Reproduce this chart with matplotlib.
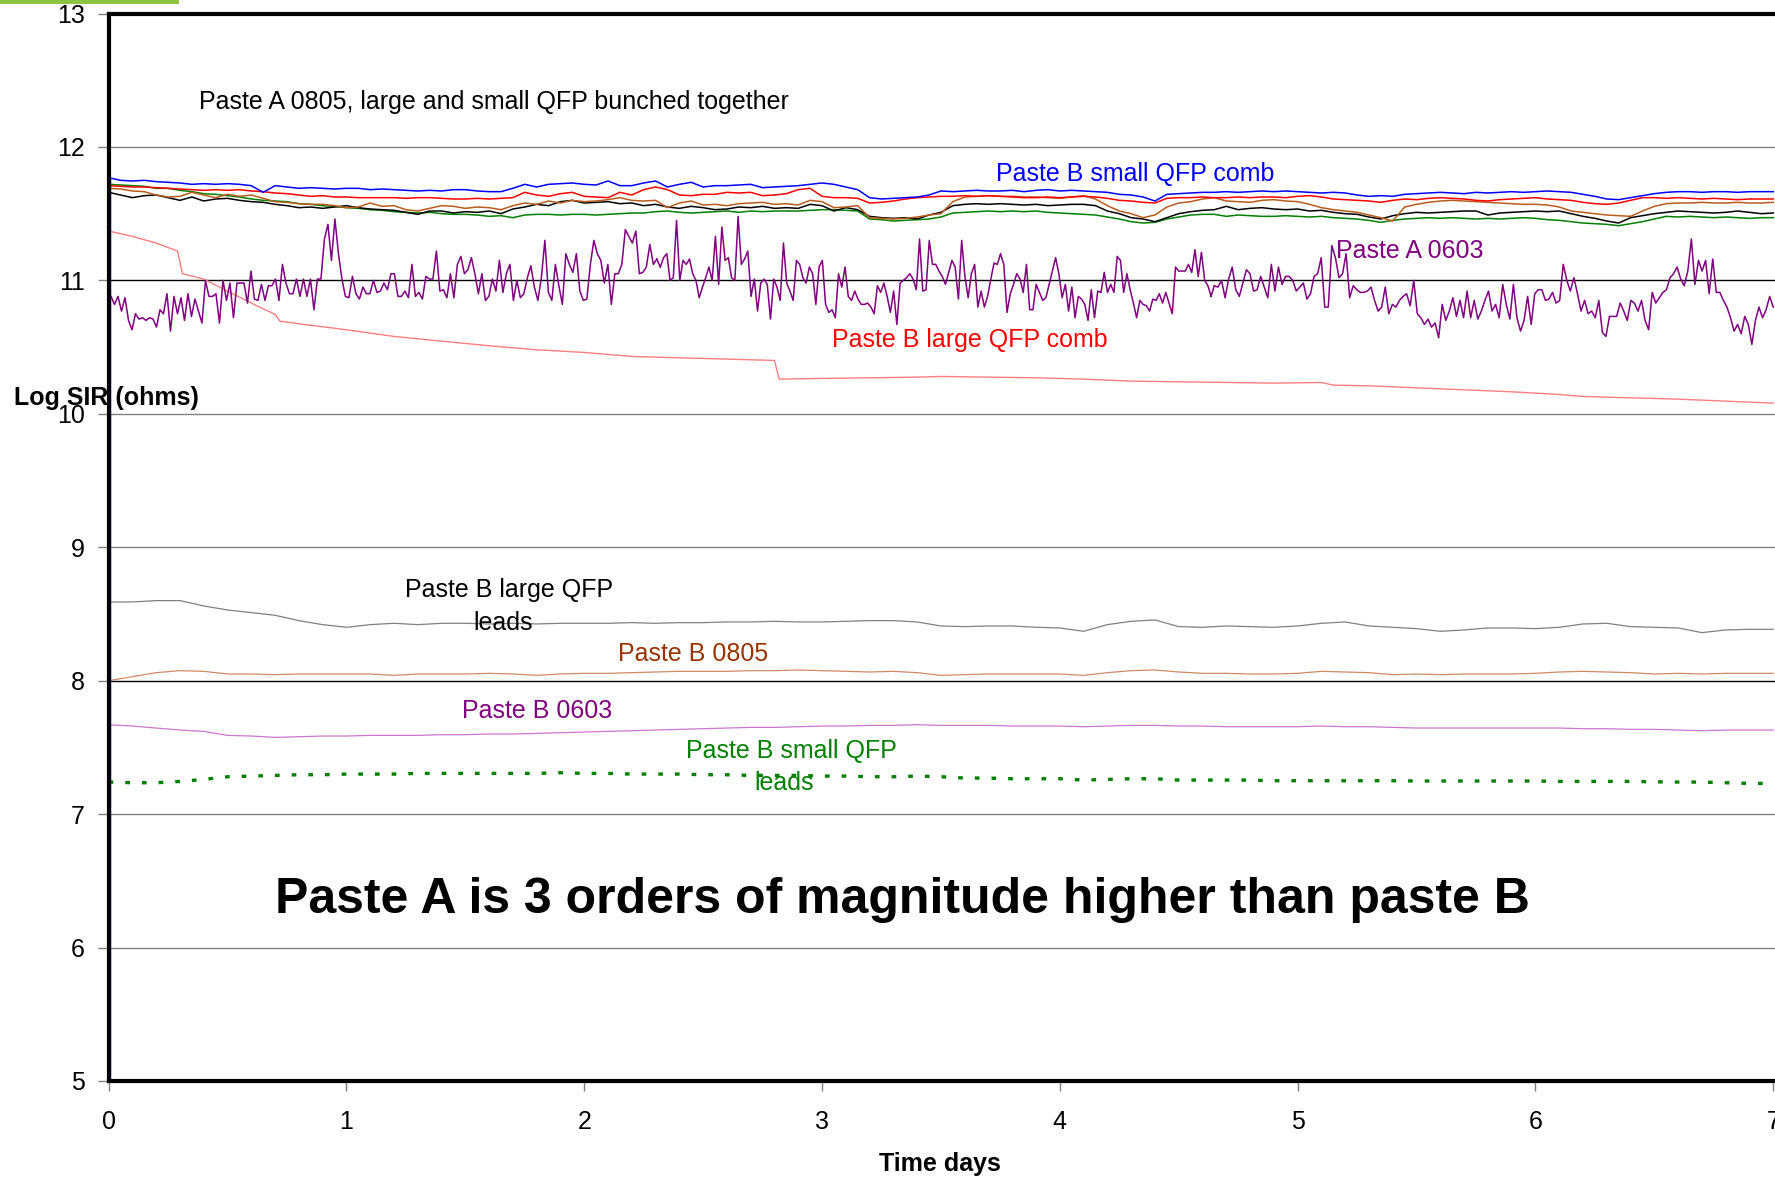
import numpy as np
import matplotlib.pyplot as plt
from matplotlib.patches import Rectangle

plt.rcParams["font.family"] = ["Liberation Sans", "DejaVu Sans"]

# ---- SIR readings, log10(ohms) ----
# upper group, read every 0.05 day from 0 to 7
blue_vals = [
    11.77, 11.75, 11.745, 11.75, 11.74, 11.735, 11.73, 11.72, 11.725, 11.72,
    11.725, 11.72, 11.71, 11.66, 11.71, 11.70, 11.69, 11.695, 11.69, 11.685,
    11.69, 11.69, 11.68, 11.685, 11.68, 11.675, 11.67, 11.675, 11.67, 11.68,
    11.68, 11.67, 11.665, 11.665, 11.69, 11.72, 11.70, 11.72, 11.725, 11.73,
    11.72, 11.715, 11.745, 11.71, 11.71, 11.73, 11.745, 11.70, 11.72, 11.735,
    11.70, 11.71, 11.71, 11.715, 11.72, 11.695, 11.70, 11.705, 11.71, 11.72,
    11.73, 11.72, 11.70, 11.68, 11.62, 11.61, 11.615, 11.62, 11.625, 11.64,
    11.67, 11.665, 11.67, 11.675, 11.67, 11.67, 11.675, 11.665, 11.675, 11.68,
    11.67, 11.675, 11.67, 11.665, 11.66, 11.645, 11.64, 11.625, 11.595, 11.645,
    11.65, 11.655, 11.66, 11.66, 11.665, 11.66, 11.665, 11.67, 11.665, 11.67,
    11.665, 11.66, 11.655, 11.66, 11.655, 11.64, 11.63, 11.635, 11.63, 11.645,
    11.65, 11.655, 11.66, 11.655, 11.65, 11.66, 11.655, 11.66, 11.665, 11.66,
    11.665, 11.67, 11.665, 11.66, 11.645, 11.63, 11.61, 11.605, 11.62, 11.635,
    11.65, 11.66, 11.665, 11.665, 11.66, 11.665, 11.665, 11.66, 11.665, 11.665,
    11.665,
]
red_vals = [
    11.71, 11.705, 11.70, 11.70, 11.695, 11.69, 11.685, 11.68, 11.675, 11.68,
    11.675, 11.68, 11.67, 11.665, 11.655, 11.65, 11.64, 11.63, 11.635, 11.625,
    11.625, 11.62, 11.62, 11.62, 11.62, 11.615, 11.62, 11.62, 11.615, 11.61,
    11.61, 11.615, 11.61, 11.615, 11.62, 11.66, 11.64, 11.63, 11.65, 11.66,
    11.63, 11.625, 11.62, 11.66, 11.64, 11.68, 11.70, 11.68, 11.64, 11.635,
    11.645, 11.645, 11.66, 11.655, 11.66, 11.635, 11.64, 11.65, 11.68, 11.69,
    11.63, 11.62, 11.62, 11.615, 11.58, 11.585, 11.595, 11.61, 11.62, 11.625,
    11.63, 11.63, 11.635, 11.63, 11.635, 11.63, 11.625, 11.62, 11.62, 11.625,
    11.62, 11.625, 11.63, 11.625, 11.615, 11.60, 11.595, 11.585, 11.58, 11.615,
    11.62, 11.62, 11.625, 11.62, 11.62, 11.625, 11.62, 11.625, 11.625, 11.62,
    11.63, 11.635, 11.625, 11.61, 11.605, 11.60, 11.595, 11.585, 11.60, 11.61,
    11.605, 11.615, 11.62, 11.615, 11.61, 11.60, 11.595, 11.605, 11.61, 11.615,
    11.62, 11.61, 11.605, 11.60, 11.585, 11.575, 11.57, 11.58, 11.60, 11.62,
    11.62, 11.615, 11.62, 11.615, 11.61, 11.615, 11.61, 11.605, 11.61, 11.61,
    11.61,
]
brown_vals = [
    11.69, 11.685, 11.67, 11.665, 11.64, 11.625, 11.63, 11.66, 11.64, 11.62,
    11.645, 11.63, 11.64, 11.615, 11.59, 11.585, 11.575, 11.57, 11.57, 11.56,
    11.545, 11.55, 11.58, 11.555, 11.56, 11.53, 11.52, 11.54, 11.56, 11.555,
    11.54, 11.55, 11.545, 11.53, 11.56, 11.58, 11.57, 11.595, 11.58, 11.60,
    11.59, 11.595, 11.605, 11.62, 11.60, 11.595, 11.60, 11.545, 11.58, 11.595,
    11.565, 11.57, 11.56, 11.575, 11.58, 11.585, 11.57, 11.575, 11.565, 11.60,
    11.59, 11.545, 11.55, 11.56, 11.47, 11.465, 11.46, 11.465, 11.475, 11.49,
    11.50, 11.59, 11.625, 11.63, 11.635, 11.63, 11.63, 11.625, 11.625, 11.62,
    11.615, 11.625, 11.635, 11.61, 11.56, 11.52, 11.50, 11.47, 11.49, 11.55,
    11.58, 11.59, 11.61, 11.62, 11.595, 11.59, 11.585, 11.60, 11.605, 11.595,
    11.59, 11.57, 11.545, 11.53, 11.52, 11.51, 11.49, 11.47, 11.445, 11.55,
    11.57, 11.585, 11.595, 11.60, 11.595, 11.59, 11.585, 11.58, 11.575, 11.57,
    11.57, 11.565, 11.55, 11.52, 11.51, 11.50, 11.49, 11.485, 11.48, 11.52,
    11.555, 11.575, 11.58, 11.58, 11.585, 11.58, 11.58, 11.585, 11.58, 11.58,
    11.585,
]
black_vals = [
    11.66, 11.64, 11.62, 11.635, 11.64, 11.62, 11.60, 11.625, 11.595, 11.61,
    11.615, 11.60, 11.59, 11.585, 11.57, 11.56, 11.545, 11.55, 11.54, 11.55,
    11.56, 11.545, 11.535, 11.53, 11.525, 11.51, 11.495, 11.52, 11.52, 11.505,
    11.515, 11.51, 11.52, 11.50, 11.535, 11.55, 11.57, 11.56, 11.59, 11.60,
    11.58, 11.585, 11.59, 11.575, 11.58, 11.56, 11.57, 11.55, 11.54, 11.555,
    11.545, 11.53, 11.535, 11.55, 11.545, 11.555, 11.54, 11.545, 11.54, 11.57,
    11.56, 11.52, 11.545, 11.53, 11.48, 11.47, 11.465, 11.47, 11.46, 11.49,
    11.51, 11.56, 11.57, 11.575, 11.57, 11.575, 11.57, 11.565, 11.57, 11.56,
    11.565, 11.57, 11.57, 11.56, 11.52, 11.50, 11.47, 11.46, 11.44, 11.47,
    11.50, 11.515, 11.525, 11.53, 11.555, 11.53, 11.54, 11.545, 11.535, 11.53,
    11.535, 11.52, 11.525, 11.51, 11.50, 11.495, 11.475, 11.46, 11.485, 11.50,
    11.51, 11.505, 11.51, 11.515, 11.52, 11.52, 11.49, 11.505, 11.51, 11.515,
    11.52, 11.515, 11.52, 11.50, 11.48, 11.465, 11.445, 11.43, 11.47, 11.485,
    11.50, 11.51, 11.52, 11.515, 11.51, 11.505, 11.51, 11.52, 11.51, 11.50,
    11.505,
]
green_vals = [
    11.72, 11.715, 11.71, 11.705, 11.69, 11.69, 11.675, 11.665, 11.65, 11.645,
    11.635, 11.625, 11.61, 11.60, 11.595, 11.59, 11.575, 11.57, 11.56, 11.555,
    11.545, 11.54, 11.53, 11.525, 11.515, 11.51, 11.505, 11.51, 11.50, 11.495,
    11.495, 11.49, 11.48, 11.485, 11.47, 11.49, 11.495, 11.495, 11.49, 11.495,
    11.495, 11.49, 11.495, 11.50, 11.505, 11.505, 11.515, 11.52, 11.51, 11.505,
    11.51, 11.515, 11.52, 11.51, 11.52, 11.515, 11.52, 11.52, 11.52, 11.525,
    11.53, 11.53, 11.525, 11.52, 11.46, 11.455, 11.445, 11.45, 11.455, 11.46,
    11.475, 11.505, 11.51, 11.515, 11.52, 11.515, 11.52, 11.515, 11.52, 11.51,
    11.505, 11.50, 11.495, 11.49, 11.475, 11.46, 11.44, 11.43, 11.435, 11.46,
    11.475, 11.49, 11.495, 11.495, 11.48, 11.49, 11.485, 11.48, 11.48, 11.485,
    11.48, 11.475, 11.48, 11.47, 11.465, 11.46, 11.45, 11.435, 11.45, 11.46,
    11.465, 11.47, 11.465, 11.47, 11.465, 11.46, 11.465, 11.46, 11.465, 11.47,
    11.465, 11.455, 11.45, 11.44, 11.43, 11.425, 11.42, 11.41, 11.425, 11.44,
    11.46, 11.48, 11.475, 11.48, 11.475, 11.47, 11.475, 11.47, 11.465, 11.47,
    11.47,
]

# Paste A 0603 - noisy trace, logged in three runs
pa0603_run1 = [
    10.88, 10.82, 10.88, 10.77, 10.87, 10.70, 10.63, 10.75, 10.71, 10.72,
    10.70, 10.72, 10.71, 10.65, 10.78, 10.75, 10.90, 10.62, 10.88, 10.75,
    10.87, 10.70, 10.90, 10.73, 10.86, 10.77, 10.68, 11.00, 10.88, 10.88,
    10.90, 10.68, 11.00, 10.85, 10.98, 10.72, 10.98, 10.98, 10.98, 10.83,
    11.07, 10.86, 10.85, 10.97, 10.85, 10.96, 10.96, 11.01, 10.85, 11.12,
    10.98, 10.90, 10.90, 11.01, 10.88, 11.01, 10.88, 11.01, 10.78, 11.01,
    11.01, 11.31, 11.42, 11.15, 11.46, 11.20, 11.01, 10.88, 10.87, 11.03,
    10.90, 10.86, 10.95, 10.90, 10.90, 11.00, 10.91, 10.92, 10.98, 10.93,
    11.05, 11.05, 10.88, 10.88, 10.92, 10.87, 11.12, 10.88, 10.91, 10.86,
    11.03, 11.01, 11.01, 11.22, 10.92, 10.93, 10.87, 11.05, 10.87, 11.12,
    11.18, 11.05, 11.08, 11.17, 11.05, 10.90, 11.05, 10.85, 10.88, 11.01,
    10.92, 11.15, 10.91, 11.05, 11.12, 10.85, 11.00, 10.87, 10.90, 11.02,
    11.11, 10.95, 10.85, 11.02, 11.30, 10.91, 10.85, 11.12, 10.96, 10.82,
    11.20, 11.12, 11.06, 11.20, 10.92, 10.85, 10.86, 11.12, 11.30, 11.20,
    11.15, 10.98, 11.12, 10.82, 11.05, 11.05, 11.12, 11.38, 11.33, 11.28,
    11.37, 11.05, 11.06, 11.10, 11.27, 11.12, 11.16,
]
pa0603_run2 = [
    11.10, 11.17, 11.20, 11.00, 11.02, 11.45, 11.00, 11.15, 11.12, 11.16,
    11.05, 11.00, 10.87, 10.95, 11.02, 11.10, 11.00, 11.33, 10.97, 11.40,
    11.15, 11.17, 11.02, 11.00, 11.48, 11.12, 11.16, 11.22, 10.88, 11.01,
    10.77, 10.98, 11.01, 10.97, 10.71, 11.01, 10.95, 10.85, 11.28, 10.98,
    10.92, 10.85, 11.15, 11.12, 11.02, 10.98, 11.10, 11.05, 10.82, 11.10,
    11.15, 10.82, 10.76, 10.78, 10.72, 11.05, 10.95, 11.10, 10.88, 10.85,
    10.92, 10.86, 10.82, 10.82, 10.83, 10.80, 10.75, 10.96, 10.91, 10.98,
    10.88, 10.76, 10.92, 10.67, 10.98, 11.00, 11.02, 11.05, 11.01, 10.93,
    11.31, 10.92, 10.93, 11.30, 11.12, 11.12, 11.07, 11.03, 10.97, 11.06,
    11.15, 11.10, 10.86, 11.30, 11.03, 10.87, 11.05, 11.12, 10.80, 10.92,
    10.80, 10.88, 11.01, 11.13, 11.12, 11.20, 11.12, 10.76, 10.90, 10.97,
    11.05, 11.01, 10.91, 11.12, 10.78, 10.78, 10.97, 10.91, 10.85, 10.87,
    10.97, 11.07, 11.17, 11.05, 10.87, 10.97, 10.77, 10.95, 10.72, 10.88,
    10.86, 10.82, 10.70, 10.93, 10.72, 10.92, 10.91, 11.06, 10.91, 10.97,
    10.91, 11.18, 11.15, 10.91, 11.05, 10.93, 10.83, 10.72, 10.85, 10.82,
    10.81, 10.77, 10.86, 10.85, 10.90, 10.83, 10.91, 10.83, 10.75, 11.10,
    11.07, 11.07, 11.07, 11.12, 11.06, 11.23, 11.03, 11.21, 11.00, 10.96,
    10.88,
]
pa0603_run3 = [
    10.96, 10.95, 11.00, 10.87, 11.01, 11.10, 10.93, 10.88, 10.98, 11.08,
    11.05, 10.92, 10.93, 11.03, 10.95, 10.87, 11.12, 10.92, 11.10, 10.97,
    11.03, 11.03, 11.00, 10.92, 10.95, 10.98, 10.86, 10.90, 11.03, 11.05,
    11.17, 10.80, 10.80, 11.26, 11.17, 11.02, 11.05, 11.20, 10.87, 10.96,
    10.93, 10.91, 10.91, 10.92, 10.95, 10.85, 10.77, 10.80, 10.95, 10.75,
    10.82, 10.80, 10.85, 10.88, 10.90, 10.81, 11.00, 10.75, 10.72, 10.67,
    10.71, 10.65, 10.68, 10.57, 10.82, 10.70, 10.77, 10.87, 10.73, 10.85,
    10.72, 10.92, 10.72, 10.85, 10.71, 10.77, 10.85, 10.92, 10.77, 10.82,
    10.72, 10.97, 10.82, 10.71, 10.97, 10.72, 10.62, 10.70, 10.88, 10.67,
    10.90, 10.93, 10.93, 10.85, 10.86, 10.91, 10.83, 10.85, 11.12, 11.00,
    10.92, 11.02, 10.90, 10.77, 10.85, 10.75, 10.77, 10.72, 10.85, 10.61,
    10.58, 10.73, 10.73, 10.73, 10.83, 10.77, 10.70, 10.85, 10.83, 10.77,
    10.85, 10.70, 10.63, 10.91, 10.83, 10.87, 10.91, 10.93, 11.02, 11.05,
    11.10, 11.01, 10.96, 11.07, 11.31, 10.97, 11.15, 11.07, 11.15, 10.90,
    11.16, 10.91, 10.91, 10.85, 10.80, 10.72, 10.62, 10.67, 10.60, 10.73,
    10.67, 10.52, 10.70, 10.80, 10.72, 10.78, 10.88, 10.80,
]
pa0603_spans = [(0.01, 2.32), (2.32, 4.65), (4.65, 7.0)]

# Paste B large QFP comb (the decaying trace), with the two step drops
comb_days = [0.0, 0.1, 0.2, 0.29, 0.31, 0.4, 0.5, 0.6, 0.7, 0.72, 0.8, 1.0,
             1.2, 1.4, 1.6, 1.8, 2.0, 2.2, 2.4, 2.6, 2.8, 2.82, 3.0, 3.2,
             3.4, 3.5, 3.7, 3.9, 4.1, 4.3, 4.5, 4.7, 4.9, 5.1, 5.15, 5.3,
             5.5, 5.7, 5.9, 6.1, 6.2, 6.4, 6.6, 6.8, 7.0]
comb_vals = [11.37, 11.33, 11.28, 11.22, 11.05, 11.01, 10.92, 10.83, 10.745,
             10.695, 10.675, 10.63, 10.58, 10.545, 10.51, 10.48, 10.46, 10.43,
             10.42, 10.41, 10.40, 10.26, 10.265, 10.27, 10.275, 10.28, 10.275,
             10.27, 10.26, 10.245, 10.24, 10.235, 10.23, 10.235, 10.215, 10.21,
             10.195, 10.18, 10.165, 10.145, 10.13, 10.12, 10.11, 10.095, 10.08]

# lower group, read every 0.1 day
leads_large_vals = [
    8.59, 8.59, 8.60, 8.60, 8.56, 8.53, 8.51, 8.49, 8.45, 8.42,
    8.40, 8.42, 8.43, 8.42, 8.43, 8.43, 8.425, 8.43, 8.425, 8.43,
    8.43, 8.43, 8.435, 8.43, 8.435, 8.435, 8.44, 8.44, 8.445, 8.44,
    8.44, 8.445, 8.45, 8.45, 8.44, 8.41, 8.405, 8.41, 8.41, 8.40,
    8.395, 8.37, 8.42, 8.445, 8.455, 8.405, 8.40, 8.41, 8.405, 8.40,
    8.41, 8.43, 8.44, 8.41, 8.40, 8.39, 8.37, 8.38, 8.395, 8.395,
    8.39, 8.40, 8.425, 8.43, 8.405, 8.40, 8.395, 8.36, 8.38, 8.385, 8.385,
]
pb0805_vals = [
    8.00, 8.03, 8.06, 8.075, 8.07, 8.05, 8.05, 8.045, 8.05, 8.05,
    8.05, 8.05, 8.04, 8.05, 8.05, 8.05, 8.055, 8.05, 8.04, 8.05,
    8.055, 8.055, 8.06, 8.065, 8.07, 8.07, 8.07, 8.075, 8.075, 8.08,
    8.075, 8.07, 8.065, 8.07, 8.06, 8.04, 8.045, 8.05, 8.05, 8.05,
    8.05, 8.04, 8.06, 8.075, 8.08, 8.065, 8.055, 8.055, 8.05, 8.05,
    8.055, 8.07, 8.065, 8.06, 8.045, 8.05, 8.045, 8.05, 8.05, 8.05,
    8.055, 8.065, 8.07, 8.065, 8.06, 8.05, 8.055, 8.05, 8.055, 8.055, 8.055,
]
pb0603_vals = [
    7.67, 7.66, 7.645, 7.63, 7.62, 7.59, 7.585, 7.575, 7.58, 7.585,
    7.585, 7.59, 7.59, 7.59, 7.595, 7.595, 7.60, 7.60, 7.605, 7.61,
    7.615, 7.62, 7.625, 7.63, 7.635, 7.64, 7.645, 7.65, 7.65, 7.655,
    7.66, 7.66, 7.665, 7.665, 7.67, 7.665, 7.665, 7.665, 7.66, 7.66,
    7.66, 7.655, 7.66, 7.665, 7.665, 7.66, 7.66, 7.655, 7.655, 7.655,
    7.655, 7.66, 7.655, 7.655, 7.65, 7.645, 7.645, 7.645, 7.645, 7.645,
    7.645, 7.645, 7.64, 7.64, 7.635, 7.635, 7.63, 7.625, 7.63, 7.63, 7.63,
]
leads_small_vals = [
    7.24, 7.235, 7.235, 7.245, 7.26, 7.28, 7.285, 7.29, 7.295, 7.295,
    7.30, 7.30, 7.30, 7.305, 7.305, 7.305, 7.305, 7.305, 7.305, 7.31,
    7.305, 7.305, 7.30, 7.30, 7.30, 7.295, 7.295, 7.29, 7.29, 7.29,
    7.285, 7.285, 7.28, 7.28, 7.285, 7.28, 7.27, 7.27, 7.265, 7.265,
    7.265, 7.255, 7.26, 7.265, 7.265, 7.255, 7.255, 7.255, 7.255, 7.25,
    7.25, 7.25, 7.25, 7.25, 7.25, 7.248, 7.248, 7.248, 7.248, 7.248,
    7.248, 7.245, 7.245, 7.245, 7.245, 7.242, 7.24, 7.24, 7.235, 7.23, 7.23,
]

y_ticks = [5, 6, 7, 8, 9, 10, 11, 12, 13]
x_ticks = [0, 1, 2, 3, 4, 5, 6, 7]

days_fine = np.linspace(0, 7, len(blue_vals))
days_coarse = np.linspace(0, 7, len(leads_large_vals))

fig = plt.figure(figsize=(17.75, 11.77), dpi=100)
fig.patch.set_facecolor("white")
# axes run a little past the right edge of the page
ax = fig.add_axes([0.0612, 0.0816, 0.9512, 0.9069])
ax.set_xlim(0, 7.1)
ax.set_ylim(5, 13)

# horizontal rules
for y in y_ticks[1:-1]:
    col = "black" if y in (8, 11) else "#808080"
    ax.axhline(y, color=col, lw=1.0, zorder=1)

# lower group
ax.plot(days_coarse, leads_large_vals, color="#808080", lw=0.9, zorder=3)
ax.plot(days_coarse, pb0805_vals, color="#d08a68", lw=0.9, zorder=3)
ax.plot(days_coarse, pb0603_vals, color="#cc77cc", lw=0.9, zorder=3)
ax.plot(days_coarse, leads_small_vals, color="#008000", lw=2.4,
        linestyle=(0, (1.4, 3.6)), zorder=3)

# decaying comb trace
ax.plot(comb_days, comb_vals, color="#ff7f7f", lw=1.0, zorder=3)

# Paste A 0603
for run, (d0, d1) in zip([pa0603_run1, pa0603_run2, pa0603_run3], pa0603_spans):
    last = d1 == 7.0
    xs = np.linspace(d0, d1, len(run), endpoint=last)
    ax.plot(xs, run, color="#800080", lw=1.1, zorder=4)
ax.plot([pa0603_spans[0][1] - 0.015, pa0603_spans[1][0]],
        [pa0603_run1[-1], pa0603_run2[0]], color="#800080", lw=1.1, zorder=4)
ax.plot([pa0603_spans[1][1] - 0.014, pa0603_spans[2][0]],
        [pa0603_run2[-1], pa0603_run3[0]], color="#800080", lw=1.1, zorder=4)

# upper group
ax.plot(days_fine, green_vals, color="#008000", lw=1.1, zorder=5)
ax.plot(days_fine, black_vals, color="black", lw=1.1, zorder=5)
ax.plot(days_fine, brown_vals, color="#b85c1e", lw=1.1, zorder=5)
ax.plot(days_fine, red_vals, color="#ff0000", lw=1.1, zorder=5)
ax.plot(days_fine, blue_vals, color="#0000ff", lw=1.1, zorder=6)
ax.vlines(0.006, 5, blue_vals[0], color="#0000ff", lw=1.0, zorder=6)

# frame
for side in ("left", "top", "bottom"):
    ax.spines[side].set_linewidth(3.0)
    ax.spines[side].set_color("black")
    ax.spines[side].set_zorder(7)
ax.spines["right"].set_visible(False)

ax.set_yticks(y_ticks)
ax.set_xticks(x_ticks)
ax.tick_params(axis="y", direction="out", length=8, width=1, color="#808080",
               labelsize=18, pad=9)
ax.tick_params(axis="x", direction="out", length=7, width=1, color="#808080",
               labelsize=18, pad=14)

# series labels
fs = 18
ax.text(0.38, 12.34, "Paste A 0805, large and small QFP bunched together",
        fontsize=fs, color="black", va="center", ha="left")
ax.text(3.73, 11.80, "Paste B small QFP comb", fontsize=fs,
        color="#0000ff", va="center", ha="left")
ax.text(5.16, 11.22, "Paste A 0603", fontsize=fs, color="#800080",
        va="center", ha="left")
ax.text(3.04, 10.555, "Paste B large QFP comb", fontsize=fs,
        color="#ff0000", va="center", ha="left")
ax.text(1.685, 8.68, "Paste B large QFP", fontsize=fs, color="black",
        va="center", ha="center")
ax.text(1.66, 8.43, "leads", fontsize=fs, color="black",
        va="center", ha="center")
ax.text(2.14, 8.20, "Paste B 0805", fontsize=fs, color="#993300",
        va="center", ha="left")
ax.text(1.485, 7.77, "Paste B 0603", fontsize=fs, color="#800080",
        va="center", ha="left")
ax.text(2.87, 7.475, "Paste B small QFP", fontsize=fs, color="#008000",
        va="center", ha="center")
ax.text(2.84, 7.23, "leads", fontsize=fs, color="#008000",
        va="center", ha="center")
ax.text(3.34, 6.355, "Paste A is 3 orders of magnitude higher than paste B",
        fontsize=36, fontweight="bold", color="black", va="center",
        ha="center", zorder=8)

# axis titles
fig.text(0.0079, 0.662, "Log SIR (ohms)", fontsize=18, fontweight="bold",
         va="center", ha="left", zorder=10)
fig.text(0.5296, 0.011, "Time days", fontsize=18, fontweight="bold",
         va="center", ha="center")

# green tab at the top left
fig.patches.append(Rectangle((0, 0.9966), 0.101, 0.0034,
                             transform=fig.transFigure,
                             facecolor="#8cc63f", edgecolor="none"))

fig.savefig("out.png", dpi=100)
